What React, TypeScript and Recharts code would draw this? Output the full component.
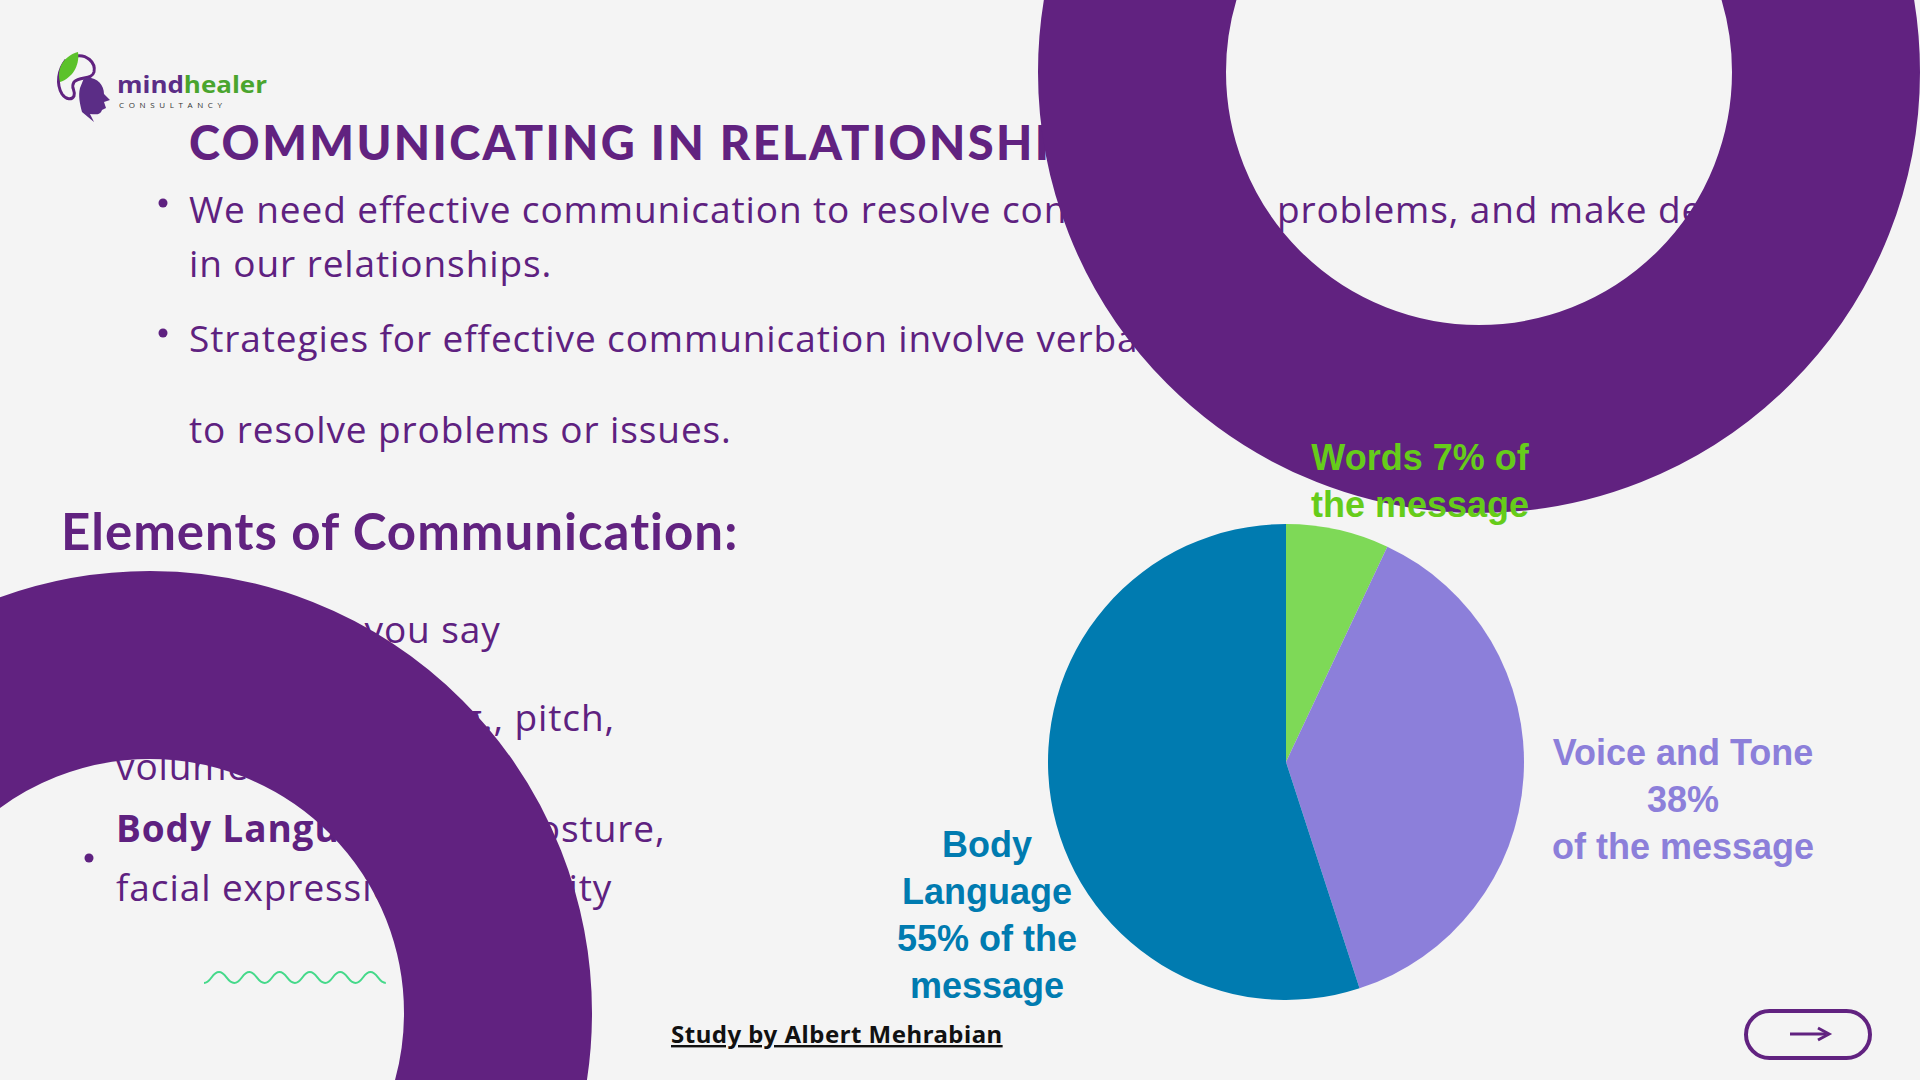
import { Cell, Pie, PieChart } from "recharts"

// Mehrabian split of a message
const slices = ["Words", "Voice and Tone", "Body Language"]
const shares = [7, 38, 55]
const sliceColors = ["#7ed957", "#8c7fda", "#007bb0"]
const labelColors = ["#66cc1a", "#8c7fda", "#007bb0"]
const labelLines = [
  ["Words 7% of", "the message"],
  ["Voice and Tone", "38%", "of the message"],
  ["Body", "Language", "55% of the", "message"],
]

const purple = "#612280"
const textPurple = "#5e2180"

export default function App() {
  const pieData = slices.map((name, i) => ({ name, value: shares[i] }))

  // where each label block sits on the slide (center x, first baseline)
  const labelSpots = [
    { x: 1420, y: 470 },
    { x: 1683, y: 765 },
    { x: 987, y: 857 },
  ]

  // decorative wave under the list
  let wave = "M204 983"
  for (let i = 0; i < 6; i++) {
    const x0 = 204 + i * 30.3
    wave += ` C${x0 + 7} 983 ${x0 + 8} 972 ${x0 + 15} 972 C${x0 + 22} 972 ${x0 + 23} 983 ${x0 + 30.3} 983`
  }

  return (
    <div style={{ position: "absolute", left: 0, top: 0, width: 1920, height: 1080, background: "#f4f4f4", overflow: "hidden" }}>
      <svg width={1920} height={1080} style={{ position: "absolute", left: 0, top: 0 }}>
        {/* logo */}
        <g>
          <path d="M66 60 C58 70 56 84 62 94 C66 100 72 100 74 96 C76 90 70 88 74 82 C80 76 92 80 94 72 C96 62 86 54 76 56" fill="none" stroke={purple} strokeWidth={3} />
          <path d="M84 78 C96 76 104 84 104 94 L110 100 L104 102 L106 108 L102 110 C100 116 94 114 90 114 L94 122 L82 112 C80 104 78 96 80 88 Z" fill="#5b2d86" />
          <path d="M60 82 C56 68 64 56 78 52 C80 66 72 78 60 82 Z" fill="#5cc22b" />
          <text x={117} y={93} fontFamily="Open Sans" fontWeight={700} fontSize={24} textLength={150} lengthAdjust="spacingAndGlyphs">
            <tspan fill="#5b2d86">mind</tspan>
            <tspan fill="#4aa52e">healer</tspan>
          </text>
          <text x={119} y={108} fontFamily="Open Sans" fontSize={8} fill="#333" textLength={103}>CONSULTANCY</text>
        </g>

        {/* title and bullets */}
        <text x={189} y={160} fontFamily="Lato" fontWeight={900} fontSize={47} letterSpacing={2.4} fill={purple}>COMMUNICATING IN RELATIONSHIPS</text>
        <g fontFamily="Open Sans" fontSize={37} letterSpacing={0.9} fill={textPurple}>
          <circle cx={163} cy={203} r={4.5} fill={textPurple} />
          <text x={189} y={223}>We need effective communication to resolve conflicts, solve problems, and make decisions</text>
          <text x={189} y={277}>in our relationships.</text>
          <circle cx={163} cy={333} r={4.5} fill={textPurple} />
          <text x={189} y={352}>Strategies for effective communication involve verbal and nonverbal skills, listening</text>
          <text x={189} y={443}>to resolve problems or issues.</text>
        </g>

        <text x={61} y={550} fontFamily="Lato" fontWeight={700} fontSize={51} letterSpacing={1} fill={purple}>Elements of Communication:</text>
        <g fontFamily="Open Sans" fontSize={37} letterSpacing={0.9} fill={textPurple}>
          <text x={116} y={643}><tspan fontWeight={700}>Words:</tspan> What you say</text>
          <text x={116} y={731}><tspan fontWeight={700}>Voice and Tone:</tspan> e.g., pitch,</text>
          <text x={116} y={780}>volume</text>
          <circle cx={89} cy={858} r={4.5} fill={textPurple} />
          <text x={116} y={842}><tspan fontWeight={700}>Body Language:</tspan> e.g., posture,</text>
          <text x={116} y={901}>facial expression, proximity</text>
        </g>

        <path d={wave} fill="none" stroke="#45d98a" strokeWidth={2} />

        {/* big rings */}
        <circle cx={1479} cy={72} r={347} fill="none" stroke={purple} strokeWidth={188} />
        <circle cx={150} cy={1013} r={348} fill="none" stroke={purple} strokeWidth={188} />

        {/* pie labels */}
        {labelLines.map((lines, i) => (
          <text key={slices[i]} fontFamily="Liberation Sans" fontWeight={700} fontSize={36} fill={labelColors[i]} textAnchor="middle">
            {lines.map((line, j) => (
              <tspan key={line} x={labelSpots[i].x} y={labelSpots[i].y + j * 47}>{line}</tspan>
            ))}
          </text>
        ))}

        <text x={671} y={1043} fontFamily="Noto Sans" fontWeight={700} fontSize={24} letterSpacing={0.5} fill="#111" textDecoration="underline">Study by Albert Mehrabian</text>

        {/* next button */}
        <rect x={1746} y={1011} width={124} height={47} rx={23.5} fill="none" stroke={purple} strokeWidth={4} />
        <line x1={1790} y1={1034} x2={1826} y2={1034} stroke={purple} strokeWidth={3} />
        <path d="M1818 1028 L1829 1034 L1818 1040" fill="none" stroke={purple} strokeWidth={3} />
      </svg>

      <div style={{ position: "absolute", left: 986, top: 462, width: 600, height: 600 }}>
        <PieChart width={600} height={600} margin={{ top: 0, right: 0, bottom: 0, left: 0 }}>
          <Pie
            data={pieData}
            dataKey="value"
            nameKey="name"
            cx={300}
            cy={300}
            outerRadius={238}
            startAngle={90}
            endAngle={-270}
            stroke="none"
            isAnimationActive={false}
          >
            {pieData.map((d, i) => (
              <Cell key={d.name} fill={sliceColors[i]} />
            ))}
          </Pie>
        </PieChart>
      </div>
    </div>
  )
}
